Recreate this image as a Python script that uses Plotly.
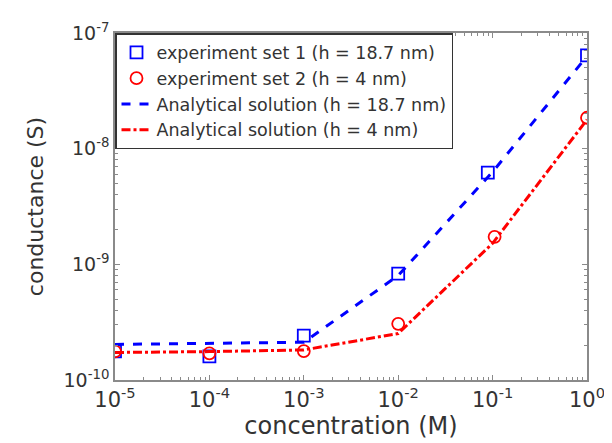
import plotly.graph_objects as go

# Data
exp1_x = [1e-5, 1e-4, 1e-3, 1e-2, 0.089, 1.0]
exp1_y = [1.77e-10, 1.60e-10, 2.42e-10, 8.3e-10, 6.2e-9, 6.4e-8]
exp2_x = [1e-5, 1e-4, 1e-3, 1e-2, 0.105, 1.0]
exp2_y = [1.77e-10, 1.70e-10, 1.78e-10, 3.06e-10, 1.73e-9, 1.85e-8]
ana_x = [1e-5, 1e-4, 1e-3, 1e-2, 1e-1, 1.0]
ana1_y = [2.03e-10, 2.06e-10, 2.12e-10, 8.0e-10, 6.3e-9, 6.3e-8]
ana2_y = [1.73e-10, 1.76e-10, 1.82e-10, 2.52e-10, 1.52e-9, 1.78e-8]

xtick_vals = [1e-5, 1e-4, 1e-3, 1e-2, 1e-1, 1e0]
xtick_text = ["10<sup>-5</sup>", "10<sup>-4</sup>", "10<sup>-3</sup>", "10<sup>-2</sup>", "10<sup>-1</sup>", "10<sup>0</sup>"]
ytick_vals = [1e-10, 1e-9, 1e-8, 1e-7]
ytick_text = ["10<sup>-10</sup>", "10<sup>-9</sup>", "10<sup>-8</sup>", "10<sup>-7</sup>"]

x_minor = [m * 10.0 ** e for e in range(-5, 0) for m in range(2, 10)]
y_minor = [m * 10.0 ** e for e in range(-10, -7) for m in range(2, 10)]

FONT = "DejaVu Sans"
TXT = "#333333"
AX = "#8a8a8a"

fig = go.Figure()
fig.add_trace(go.Scatter(x=exp1_x, y=exp1_y, mode="markers",
                         name="experiment set 1 (h = 18.7 nm)",
                         marker=dict(symbol="square-open", size=12, color="#0000ff",
                                     line=dict(width=1.8, color="#0000ff"))))
fig.add_trace(go.Scatter(x=exp2_x, y=exp2_y, mode="markers",
                         name="experiment set 2 (h = 4 nm)",
                         marker=dict(symbol="circle-open", size=12, color="#ff0000",
                                     line=dict(width=1.8, color="#ff0000"))))
fig.add_trace(go.Scatter(x=ana_x, y=ana1_y, mode="lines",
                         name="Analytical solution (h = 18.7 nm)",
                         line=dict(color="#0000ff", width=3, dash="dash")))
fig.add_trace(go.Scatter(x=ana_x, y=ana2_y, mode="lines",
                         name="Analytical solution (h = 4 nm)",
                         line=dict(color="#ff0000", width=3, dash="dashdot")))

axis_common = dict(
    type="log", showgrid=False, zeroline=False,
    showline=True, linecolor=AX, linewidth=1.5, mirror="ticks",
    ticks="inside", ticklen=5, tickcolor=AX, tickwidth=1,
)

fig.update_xaxes(**axis_common, range=[-5, 0], tickvals=xtick_vals, ticktext=xtick_text,
                 tickfont=dict(family=FONT, size=21, color=TXT),
                 minor=dict(tickvals=x_minor, ticks="inside", ticklen=3, tickcolor=AX, tickwidth=1, showgrid=False),
                 title=dict(text="concentration (M)", standoff=6,
                            font=dict(family=FONT, size=24, color=TXT)))
fig.update_yaxes(**axis_common, range=[-10, -7], tickvals=ytick_vals, ticktext=ytick_text,
                 tickfont=dict(family=FONT, size=19, color=TXT),
                 minor=dict(tickvals=y_minor, ticks="inside", ticklen=3, tickcolor=AX, tickwidth=1, showgrid=False),
                 title=dict(text="conductance (S)", standoff=14,
                            font=dict(family=FONT, size=22, color=TXT)))

fig.update_layout(
    width=612, height=443,
    margin=dict(l=107, r=33, t=20, b=71),
    paper_bgcolor="white", plot_bgcolor="white",
    showlegend=True,
    legend=dict(x=0, y=1, xanchor="left", yanchor="top",
                bgcolor="white", bordercolor="#333333", borderwidth=1.5,
                font=dict(family=FONT, size=17.5, color=TXT),
                tracegroupgap=0, itemwidth=30),
)

fig.write_html("out.html")
